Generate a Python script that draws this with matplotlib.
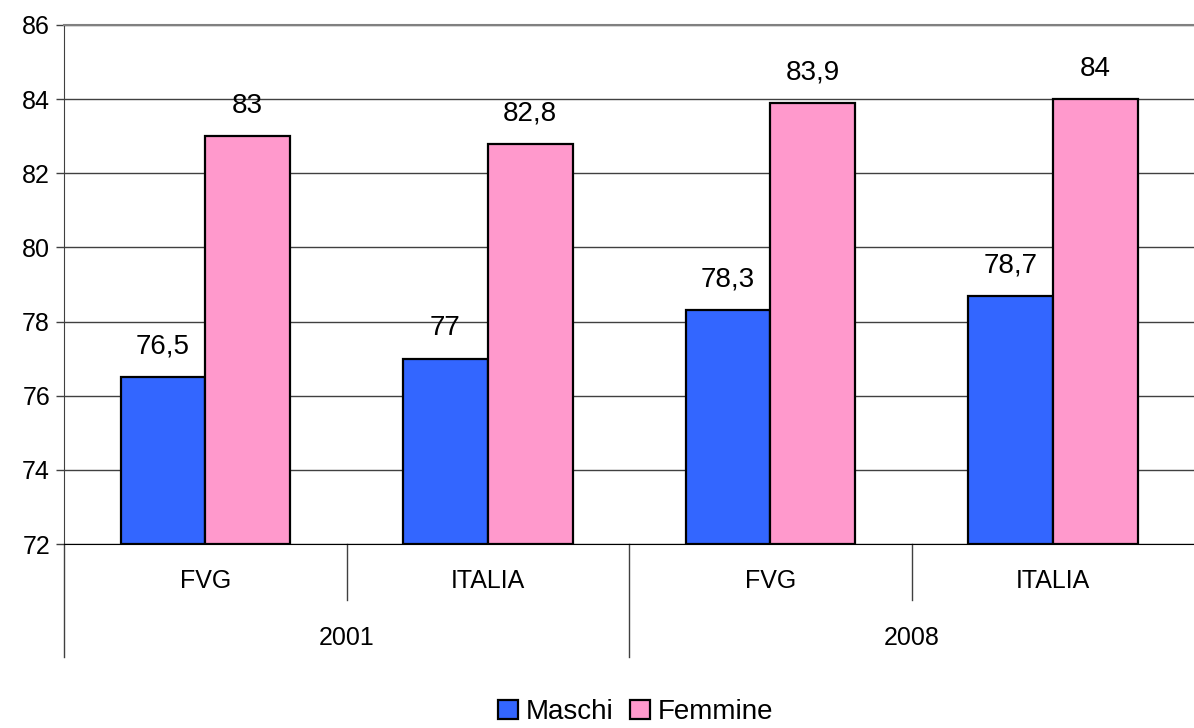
import matplotlib
matplotlib.use("Agg")
import matplotlib.pyplot as plt
import numpy as np

plt.rcParams['font.family'] = ['Liberation Sans', 'DejaVu Sans']

categories = ["FVG", "ITALIA", "FVG", "ITALIA"]
years = ["2001", "2008"]
maschi = [76.5, 77, 78.3, 78.7]
femmine = [83, 82.8, 83.9, 84]
series_names = ["Maschi", "Femmine"]
colors = ["#3366FF", "#FF99CC"]

fig = plt.figure(figsize=(11.94, 7.28), dpi=100)
ax = fig.add_axes([64 / 1194, 1 - 544 / 728, 1 - 64 / 1194, (544 - 25) / 728])

x = np.arange(len(categories))
w = 0.3
for vals, off, col, name in [(maschi, -w / 2, colors[0], series_names[0]),
                             (femmine, w / 2, colors[1], series_names[1])]:
    ax.bar(x + off, [v - 72 for v in vals], w, bottom=72, color=col,
           edgecolor="black", linewidth=1.6, label=name, zorder=3)
    for xi, v in zip(x + off, vals):
        ax.annotate(f"{v:g}".replace(".", ","), (xi, v), xytext=(0, 22),
                    textcoords="offset points", ha="center", va="center",
                    fontsize=20)

ax.set_ylim(72, 86)
ax.set_xlim(-0.5, 3.5)
ax.set_yticks(range(72, 87, 2))
ax.tick_params(axis="y", labelsize=18, length=6, width=1, color="#404040", pad=4)
ax.yaxis.grid(True, color="#404040", linewidth=1, zorder=0)
ax.set_xticks([])
ax.spines["right"].set_visible(False)
ax.spines["top"].set_color("#808080")
ax.spines["top"].set_linewidth(1.5)
ax.spines["left"].set_color("#404040")
ax.spines["bottom"].set_color("black")

# multi-level category axis
tr = ax.get_xaxis_transform()
for xi, lab in zip(x, categories):
    ax.text(xi, -0.0713, lab, transform=tr, ha="center", va="center", fontsize=18)
for i, yr in enumerate(years):
    ax.text(2 * i + 0.5, -0.181, yr, transform=tr, ha="center", va="center", fontsize=18)
for xs in [0.5, 2.5]:
    ax.plot([xs, xs], [0, -0.108], transform=tr, color="#404040", lw=1, clip_on=False)
for xs in [-0.5, 1.5]:
    ax.plot([xs, xs], [0, -0.218], transform=tr, color="#404040", lw=1, clip_on=False)

fig.legend(loc="center", bbox_to_anchor=(636 / 1194, 1 - 712 / 728), ncol=2, frameon=False,
           fontsize=20, handlelength=0.7, handleheight=0.7, handletextpad=0.3,
           columnspacing=0.6, borderpad=0)

fig.savefig("out.png", dpi=100)
